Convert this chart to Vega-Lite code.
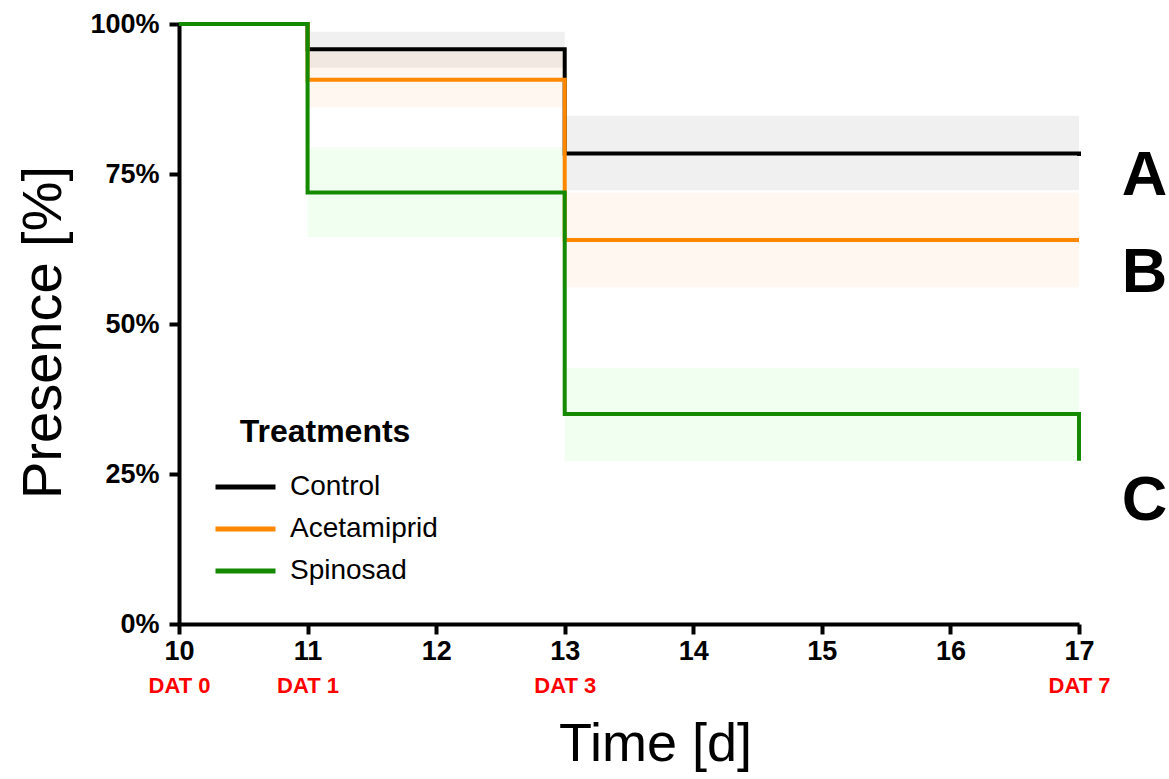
{
  "$schema": "https://vega.github.io/schema/vega-lite/v6.json",
  "autosize": {"type": "none"},
  "padding": {"left": 179, "top": 24, "right": 90, "bottom": 155},
  "width": 900,
  "height": 600,
  "background": "white",
  "config": {
    "font": "Liberation Sans",
    "view": {"stroke": null},
    "axis": {"grid": false}
  },
  "datasets": {
    "km": [
      {"treatment": "Control", "day": 10, "pct": 100},
      {"treatment": "Control", "day": 11, "pct": 95.8},
      {"treatment": "Control", "day": 13, "pct": 78.4},
      {"treatment": "Control", "day": 17, "pct": 78.0},
      {"treatment": "Acetamiprid", "day": 10, "pct": 100},
      {"treatment": "Acetamiprid", "day": 11, "pct": 90.7},
      {"treatment": "Acetamiprid", "day": 13, "pct": 64.0},
      {"treatment": "Acetamiprid", "day": 17, "pct": 64.0},
      {"treatment": "Spinosad", "day": 10, "pct": 100},
      {"treatment": "Spinosad", "day": 11, "pct": 71.9},
      {"treatment": "Spinosad", "day": 13, "pct": 35.0},
      {"treatment": "Spinosad", "day": 17, "pct": 27.2}
    ],
    "ci": [
      {"treatment": "Control", "start": 11, "end": 13, "lo": 92.7, "hi": 98.7},
      {"treatment": "Control", "start": 13, "end": 17, "lo": 72.3, "hi": 84.7},
      {"treatment": "Acetamiprid", "start": 11, "end": 13, "lo": 86.1, "hi": 95.4},
      {"treatment": "Acetamiprid", "start": 13, "end": 17, "lo": 56.1, "hi": 71.9},
      {"treatment": "Spinosad", "start": 11, "end": 13, "lo": 64.5, "hi": 79.4},
      {"treatment": "Spinosad", "start": 13, "end": 17, "lo": 27.2, "hi": 42.7}
    ],
    "letters": [
      {"letter": "A", "day": 17.51, "pct": 71.5},
      {"letter": "B", "day": 17.51, "pct": 55.4},
      {"letter": "C", "day": 17.51, "pct": 17.4}
    ]
  },
  "resolve": {"scale": {"x": "independent"}, "axis": {"x": "independent"}},
  "layer": [
    {
      "data": {"name": "ci"},
      "mark": {"type": "rect", "fillOpacity": 0.06},
      "encoding": {
        "x": {
          "field": "start", "type": "quantitative",
          "scale": {"domain": [10, 17], "nice": false, "zero": false},
          "axis": {
            "orient": "bottom",
            "values": [10, 11, 13, 17],
            "labelExpr": "'DAT ' + (datum.value - 10)",
            "domain": false, "ticks": false, "labelFlush": false,
            "labelColor": "#ff0000", "labelFontSize": 22, "labelFontWeight": "bold",
            "labelPadding": 51, "title": null
          }
        },
        "x2": {"field": "end"},
        "y": {"field": "lo", "type": "quantitative", "scale": {"domain": [0, 100], "nice": false}},
        "y2": {"field": "hi"},
        "fill": {
          "field": "treatment", "type": "nominal",
          "scale": {"domain": ["Spinosad", "Acetamiprid", "Control"], "range": ["#00ff00", "#ff7a00", "#000000"]},
          "legend": null
        }
      }
    },
    {
      "data": {"name": "km"},
      "mark": {"type": "line", "interpolate": "step-after", "strokeWidth": 4},
      "encoding": {
        "x": {
          "field": "day", "type": "quantitative",
          "scale": {"domain": [10, 17], "nice": false, "zero": false},
          "axis": {
            "orient": "bottom",
            "values": [10, 11, 12, 13, 14, 15, 16, 17],
            "format": "d", "labelFlush": false,
            "domainColor": "#000000", "domainWidth": 4,
            "tickColor": "#000000", "tickWidth": 4, "tickSize": 10,
            "labelColor": "#000000", "labelFontSize": 27, "labelFontWeight": "bold",
            "labelPadding": 4,
            "title": "Time [d]", "titleFontSize": 54, "titleFontWeight": "normal",
            "titleColor": "#000000", "titlePadding": 53, "titleX": 476, "titleAlign": "center"
          }
        },
        "y": {
          "field": "pct", "type": "quantitative",
          "scale": {"domain": [0, 100], "nice": false},
          "axis": {
            "values": [0, 25, 50, 75, 100],
            "labelExpr": "datum.value + '%'",
            "domainColor": "#000000", "domainWidth": 4,
            "tickColor": "#000000", "tickWidth": 4, "tickSize": 10,
            "labelColor": "#000000", "labelFontSize": 27, "labelFontWeight": "bold",
            "labelPadding": 10,
            "title": "Presence [%]", "titleFontSize": 56, "titleFontWeight": "normal",
            "titleColor": "#000000", "titlePadding": 17, "titleY": 308
          }
        },
        "color": {
          "field": "treatment", "type": "nominal",
          "scale": {"domain": ["Control", "Acetamiprid", "Spinosad"], "range": ["#000000", "#ff8800", "#138a00"]},
          "legend": {
            "title": "Treatments",
            "orient": "none", "legendX": 34, "legendY": 393, "padding": 0,
            "titleFontSize": 32, "titleFontWeight": "bold", "titleColor": "#000000",
            "titleAnchor": "middle", "titlePadding": 24,
            "labelFontSize": 28, "labelColor": "#000000", "labelOffset": 12,
            "symbolType": "stroke", "symbolSize": 3600, "symbolStrokeWidth": 5,
            "clipHeight": 28,
            "rowPadding": 14
          }
        }
      }
    },
    {
      "data": {"name": "letters"},
      "mark": {"type": "text", "fontSize": 63, "fontWeight": "bold", "color": "#000000", "align": "center", "baseline": "alphabetic"},
      "encoding": {
        "x": {"field": "day", "type": "quantitative", "scale": {"domain": [10, 17], "nice": false, "zero": false}, "axis": null},
        "y": {"field": "pct", "type": "quantitative"},
        "text": {"field": "letter"}
      }
    }
  ]
}
